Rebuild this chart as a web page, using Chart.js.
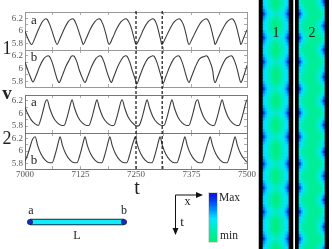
<!DOCTYPE html>
<html><head><meta charset="utf-8">
<style>
html,body{margin:0;padding:0;background:#fff;overflow:hidden}
#stage{position:relative;width:332px;height:249px;overflow:hidden;filter:blur(.35px)}
canvas{position:absolute;display:block}
.t{position:absolute;font-family:"Liberation Serif",serif;color:#222;line-height:1;transform:translate(-50%,-50%);white-space:nowrap}
svg{position:absolute;left:0;top:0}
</style>
<script src="https://cdn.jsdelivr.net/npm/chart.js@4"></script>
</head><body><div id="stage"></div>
<script>
const xTicks=[7000,7062.5,7125,7187.5,7250,7312.5,7375,7437.5,7500];
const xLabels=[7000,7125,7250,7375,7500];
const yTicks=[5.8,5.9,6,6.1,6.2];
const yLabels=[5.8,6,6.2];
const dashTimes=[7250,7309];

const t1a=[7000,7007,7015,7022,7030,7039,7044,7047,7050,7056,7063,7068,7072,7079,7088,7097,7103,7107,7110,7116,7123,7128,7131,7138,7147,7157,7163,7167,7170,7176,7183,7186,7189,7197,7206,7216,7223,7227,7230,7237,7244,7247,7250,7258,7267,7277,7284,7288,7291,7297,7303,7306,7308,7316,7326,7336,7343,7347,7350,7357,7363,7366,7369,7377,7387,7397,7404,7408,7411,7417,7423,7426,7428,7435,7445,7455,7462,7466,7469,7475,7481,7484,7486,7492,7500];
const v1a=[6.00,5.87,5.78,5.88,6.02,6.15,6.19,6.20,6.19,6.10,5.95,5.84,5.78,5.88,6.03,6.15,6.19,6.20,6.19,6.10,5.95,5.84,5.78,5.88,6.03,6.15,6.19,6.20,6.19,6.10,5.93,5.84,5.78,5.88,6.03,6.15,6.19,6.20,6.19,6.10,5.93,5.84,5.78,5.88,6.03,6.15,6.19,6.20,6.19,6.10,5.93,5.84,5.78,5.88,6.03,6.15,6.19,6.20,6.19,6.10,5.94,5.84,5.78,5.88,6.03,6.15,6.19,6.20,6.19,6.10,5.93,5.84,5.78,5.88,6.03,6.15,6.19,6.20,6.19,6.10,5.93,5.84,5.78,5.88,6.02];

const t1b=[7000,7005,7012,7018,7024,7033,7042,7048,7052,7055,7061,7067,7072,7077,7083,7092,7101,7104,7108,7111,7117,7123,7130,7135,7141,7150,7159,7165,7169,7172,7178,7184,7190,7194,7200,7209,7218,7223,7227,7230,7236,7242,7248,7252,7258,7267,7276,7284,7288,7291,7297,7303,7308,7311,7317,7326,7335,7341,7345,7348,7354,7360,7365,7369,7375,7384,7393,7404,7408,7411,7417,7423,7425,7428,7434,7443,7452,7460,7464,7467,7473,7479,7483,7486,7492,7500];
const v1b=[6.10,6.00,5.87,5.79,5.87,6.03,6.15,6.19,6.20,6.19,6.10,5.96,5.84,5.78,5.87,6.03,6.15,6.19,6.20,6.19,6.10,5.96,5.84,5.78,5.87,6.03,6.15,6.19,6.20,6.19,6.10,5.96,5.84,5.78,5.87,6.03,6.15,6.19,6.20,6.19,6.10,5.96,5.84,5.76,5.87,6.03,6.15,6.19,6.20,6.19,6.10,5.96,5.84,5.77,5.87,6.03,6.15,6.19,6.20,6.19,6.10,5.96,5.84,5.78,5.87,6.03,6.15,6.19,6.20,6.19,6.10,5.96,5.84,5.78,5.87,6.03,6.15,6.19,6.20,6.19,6.10,5.96,5.84,5.78,5.87,6.05];

const t2a=[7000,7006,7014,7022,7030,7036,7042,7046,7050,7055,7063,7073,7083,7088,7094,7100,7104,7106,7111,7119,7129,7139,7144,7150,7156,7160,7162,7167,7175,7185,7195,7200,7206,7212,7216,7219,7224,7232,7242,7252,7257,7263,7269,7273,7275,7280,7288,7298,7308,7313,7319,7325,7329,7331,7336,7344,7354,7364,7369,7375,7381,7385,7389,7394,7402,7412,7422,7426,7432,7438,7442,7444,7449,7457,7467,7477,7482,7488,7494,7498,7500];
const v2a=[6.10,6.00,5.90,5.84,5.81,5.92,6.08,6.19,6.22,6.10,5.95,5.85,5.81,5.81,5.92,6.08,6.19,6.22,6.10,5.95,5.85,5.81,5.81,5.92,6.08,6.19,6.22,6.10,5.95,5.85,5.81,5.81,5.92,6.08,6.19,6.22,6.10,5.95,5.85,5.80,5.81,5.92,6.08,6.19,6.22,6.10,5.95,5.85,5.81,5.81,5.92,6.08,6.19,6.22,6.10,5.95,5.85,5.81,5.81,5.92,6.08,6.19,6.22,6.10,5.95,5.85,5.81,5.81,5.92,6.08,6.19,6.22,6.10,5.95,5.85,5.81,5.81,5.92,6.08,6.19,6.22];

const t2b=[7000,7006,7012,7017,7023,7028,7036,7046,7056,7061,7067,7073,7077,7079,7084,7092,7102,7112,7117,7123,7129,7133,7135,7140,7148,7158,7168,7173,7179,7185,7189,7191,7196,7204,7214,7224,7229,7235,7241,7246,7248,7253,7261,7271,7281,7286,7292,7298,7302,7304,7309,7317,7327,7337,7342,7348,7354,7358,7360,7365,7373,7383,7393,7398,7404,7410,7415,7417,7422,7430,7440,7450,7455,7461,7467,7471,7473,7478,7486,7496,7500];
const v2b=[5.84,5.94,6.08,6.19,6.23,6.10,5.95,5.85,5.81,5.81,5.92,6.08,6.19,6.23,6.10,5.95,5.85,5.81,5.81,5.92,6.08,6.19,6.23,6.10,5.95,5.85,5.81,5.81,5.92,6.08,6.19,6.23,6.10,5.95,5.85,5.81,5.81,5.92,6.08,6.19,6.23,6.10,5.95,5.85,5.81,5.81,5.92,6.08,6.19,6.23,6.10,5.95,5.85,5.81,5.81,5.92,6.08,6.19,6.23,6.10,5.95,5.85,5.81,5.81,5.92,6.08,6.19,6.23,6.10,5.95,5.85,5.81,5.81,5.92,6.08,6.19,6.23,6.10,5.95,5.85,5.82];

const heatColumns=["0","1","2","3","4","5","6","7","8","9","10","11","12","13","14","15","16"];
const heat1Profiles=[
[1.3,1.3,.54,.47,.38,.28,.18,.09,.05,.09,.18,.28,.38,.47,.54,1.3,1.3],
[1.3,1.3,.64,.52,.42,.33,.24,.17,.13,.17,.24,.33,.42,.52,.64,1.3,1.3],
[1.3,1.3,.76,.58,.47,.38,.31,.26,.23,.26,.31,.38,.47,.58,.76,1.3,1.3],
[1.3,1.3,.92,.66,.52,.43,.37,.32,.29,.32,.37,.43,.52,.66,.92,1.3,1.3]];
const heat1Rows=[0,0,1,2,3,2,1,0,0,0,1,2,3,2,1,0,0,0,1,2,3,2,1,0,0,0,0,1,2,3,2,1,0,0,0,1,2,3,2,1,0,0,0,1,2,3,2,1,0,0,0,0,1,2,3,2,1,0,0,0,1,2,3,2,1,0,0,0,1,2,3,2,1,0,0,0,0,1,2,3,2,1,0];
const heat2Profiles=[
[1.3,1.3,.92,.64,.46,.32,.22,.17,.15,.15,.15,.16,.19,.25,.36,1.3,1.3],
[1.3,1.3,.74,.54,.39,.28,.20,.16,.14,.14,.14,.17,.22,.30,.46,1.3,1.3],
[1.3,1.3,.56,.42,.30,.23,.18,.15,.14,.15,.18,.23,.30,.42,.56,1.3,1.3],
[1.3,1.3,.46,.30,.22,.17,.14,.14,.14,.16,.20,.28,.39,.54,.74,1.3,1.3],
[1.3,1.3,.36,.25,.19,.16,.15,.15,.15,.17,.22,.32,.46,.64,.92,1.3,1.3]];
const heat2Rows=[4,3,2,1,0,1,2,3,4,3,2,1,0,1,2,3,4,3,2,1,0,1,2,2,3,4,3,2,1,0,1,2,3,4,3,2,1,0,1,2,3,4,3,2,1,0,1,2,2,3,4,3,2,1,0,1,2,3,4,3,2,1,0,1,2,3,4,3,2,1,0,1,2,2,3,4,3,2,1,0,1,2,3];
const barLevels=[1,1,.97,.94,.9,.86,.82,.78,.74,.7,.65,.6,.56,.52,.48,.44,.4,.36,.32,.28,.24,.2,.16,.12,.08,.04,0];
const rodX=[0,1];
const rodY=[0,0];

const stops=[[0,0,240,110],[.3,0,235,195],[.5,0,230,255],[.75,0,130,255],[1,10,30,235],[1.3,0,0,0]];
function heatColor(v){
  for(let i=1;i<stops.length;i++){
    if(v<=stops[i][0]){
      const a=stops[i-1],b=stops[i],f=(v-a[0])/(b[0]-a[0]);
      return `rgb(${Math.round(a[1]+(b[1]-a[1])*f)},${Math.round(a[2]+(b[2]-a[2])*f)},${Math.round(a[3]+(b[3]-a[3])*f)})`;
    }
  }
  return 'rgb(0,0,0)';
}
const stage=document.getElementById('stage');
function addCanvas(l,t,w,h){
  const c=document.createElement('canvas');
  c.width=w;c.height=h;c.style.left=l+'px';c.style.top=t+'px';c.style.width=w+'px';c.style.height=h+'px';
  stage.appendChild(c);return c;
}
function addText(s,x,y,size,extra){
  const d=document.createElement('div');d.className='t';d.textContent=s;
  d.style.left=x+'px';d.style.top=y+'px';d.style.fontSize=size+'px';
  if(extra)Object.assign(d.style,extra);
  stage.appendChild(d);
}
const base={responsive:false,animation:false,events:[],plugins:{legend:{display:false},tooltip:{enabled:false},title:{display:false}}};
const tickFont={family:'"Liberation Serif"',size:9};
const plotLeft=25,plotRight=247,canvasW=262;

function panel(top,bottom,ymin,ymax,ts,vs,showX,frame){
  const padT=6,padB=6,extra=showX?14:0;
  const c=addCanvas(0,top-padT,canvasW,bottom-top+padT+padB+extra);
  const zeroH=a=>{a.height=showX&&a.position==='bottom'?extra:0;a.paddingLeft=0;a.paddingRight=0;};
  const zeroV=a=>{a.width=a.position==='left'?plotLeft:0;a.paddingTop=0;a.paddingBottom=0;};
  const xb=a=>{a.ticks=xTicks.map(v=>({value:v}));};
  const yb=a=>{a.ticks=yTicks.map(v=>({value:v}));};
  const mk=(pos,isX,lab)=>({
    type:'linear',position:pos,min:isX?7000:ymin,max:isX?7500:ymax,
    afterBuildTicks:isX?xb:yb,afterFit:isX?zeroH:zeroV,
    grid:{drawOnChartArea:false,drawTicks:true,tickLength:-3,color:'#aaa'},
    border:{display:true,color:frame,width:1},
    ticks:{display:lab,autoSkip:false,maxRotation:0,minRotation:0,font:tickFont,color:'#555',padding:isX?3:5,
      callback:v=>{const n=Math.round(v*10)/10;return (isX?xLabels:yLabels).includes(n)?String(n):'';}}
  });
  new Chart(c,{type:'line',
    data:{datasets:[{data:ts.map((t,i)=>({x:t,y:vs[i]})),borderColor:'#3c3c3c',borderWidth:1.1,pointRadius:0,cubicInterpolationMode:'monotone',xAxisID:'x',yAxisID:'y'}]},
    options:{...base,layout:{padding:{left:0,right:canvasW-plotRight,top:padT,bottom:padB}},
      scales:{x:mk('bottom',true,showX),y:mk('left',false,true),x2:mk('top',true,false),y2:mk('right',false,false)}}});
}
panel(11.5,49.5,5.69,6.31,t1a,v1a,false,'#999');
panel(49.5,86.5,5.71,6.29,t1b,v1b,false,'#999');
panel(94.5,132.5,5.69,6.295,t2a,v2a,false,'#777');
panel(132.5,168.5,5.71,6.29,t2b,v2b,true,'#777');

const dashCanvas=addCanvas(0,11,canvasW,158);
new Chart(dashCanvas,{type:'line',
  data:{datasets:dashTimes.map(t=>({data:[{x:t,y:0},{x:t,y:1}],borderColor:'#111',borderWidth:1.2,borderDash:[3,2],pointRadius:0}))},
  options:{...base,layout:{padding:{left:plotLeft,right:canvasW-plotRight,top:0,bottom:0}},
    scales:{x:{type:'linear',display:false,min:7000,max:7500},y:{type:'linear',display:false,min:0,max:1}}}});

function heat(left,profiles,rows){
  const c=addCanvas(left,0,34,249);
  new Chart(c,{type:'bar',
    data:{labels:heatColumns,datasets:rows.map(r=>({data:heatColumns.map(()=>1),backgroundColor:profiles[r].map(heatColor),borderWidth:0,barPercentage:1,categoryPercentage:1}))},
    options:{...base,layout:{padding:0},scales:{x:{display:false,stacked:true},y:{display:false,stacked:true,reverse:true,min:0,max:rows.length}}}});
}
heat(259,heat1Profiles,heat1Rows);
heat(295,heat2Profiles,heat2Rows);

const barC=addCanvas(209,193,8,49);
new Chart(barC,{type:'bar',
  data:{labels:['c'],datasets:barLevels.map(v=>({data:[1],backgroundColor:heatColor(v),borderWidth:0,barPercentage:1,categoryPercentage:1}))},
  options:{...base,layout:{padding:0},scales:{x:{display:false,stacked:true},y:{display:false,stacked:true,reverse:true,min:0,max:barLevels.length}}}});

const rodC=addCanvas(20,212,114,20);
const rodPts=rodX.map((x,i)=>({x,y:rodY[i]}));
new Chart(rodC,{type:'line',
  data:{datasets:[
    {data:rodPts,borderColor:'#123048',borderWidth:6.5,pointRadius:0,clip:false,order:3},
    {data:rodPts,borderColor:'#10ecf8',borderWidth:4.5,pointRadius:0,clip:false,order:2},
    {data:rodPts,showLine:false,borderWidth:0,pointRadius:2.6,pointBackgroundColor:'#1530c8',pointBorderColor:'#101850',pointBorderWidth:.8,clip:false,order:1}]},
  options:{...base,layout:{padding:{left:10,right:10,top:0,bottom:0}},
    scales:{x:{type:'linear',display:false,min:0,max:1},y:{type:'linear',display:false,min:-1,max:1}}}});

stage.insertAdjacentHTML('beforeend',`<svg width="332" height="249">
<line x1="258.5" y1="0" x2="258.5" y2="249" stroke="#bbb"/><line x1="293.5" y1="0" x2="293.5" y2="249" stroke="#bbb"/>
<path d="M175.5 234V195H198" fill="none" stroke="#111" stroke-width="1"/>
<path d="M203 195L196 192L196 198Z" fill="#111"/><path d="M175.5 235L172.5 228L178.5 228Z" fill="#111"/>
<rect x="208.5" y="192.5" width="9" height="50" fill="none" stroke="#ddd"/></svg>`);

addText('a',34,18.5,13);addText('b',34,56,13);
addText('a',34,100.5,13);addText('b',34,159,13);
addText('1',7,48,18);addText('2',7,138,18);
addText('v',7,92,19,{fontWeight:'bold'});
addText('t',137,187,20);
addText('a',31,210,12);addText('b',124,210,12);addText('L',77,235,12);
addText('x',187.5,201,12);addText('t',182,221,13);
addText('Max',229.5,198,11.5);addText('min',229,236,11.5);
addText('1',276,33,14);addText('2',312,33,14);
</script></body></html>
